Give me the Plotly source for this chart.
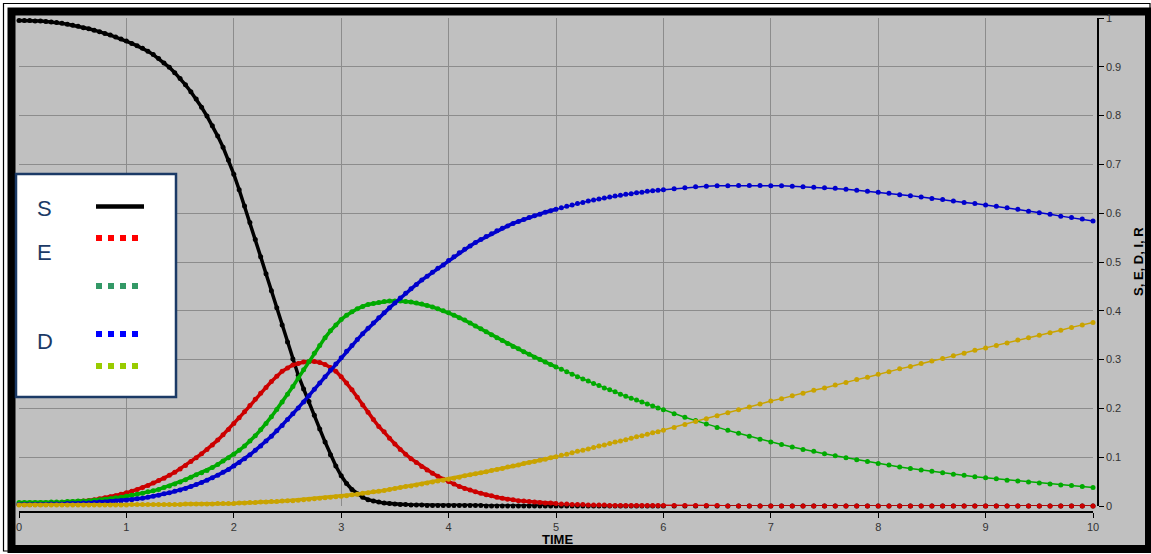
import plotly.graph_objects as go

W, H = 1151, 554

# time samples (adaptive solver steps: finer early, coarser late)
T = [0.0, 0.05, 0.1, 0.15, 0.2, 0.25, 0.3, 0.35, 0.4, 0.45,
     0.5, 0.55, 0.6, 0.65, 0.7, 0.75, 0.8, 0.85, 0.9, 0.95,
     1.0, 1.05, 1.1, 1.15, 1.2, 1.25, 1.3, 1.35, 1.4, 1.45,
     1.5, 1.55, 1.6, 1.65, 1.7, 1.75, 1.8, 1.85, 1.9, 1.95,
     2.0, 2.05, 2.1, 2.15, 2.2, 2.25, 2.3, 2.35, 2.4, 2.45,
     2.5, 2.55, 2.6, 2.65, 2.7, 2.75, 2.8, 2.85, 2.9, 2.95,
     3.0, 3.05, 3.1, 3.15, 3.2, 3.25, 3.3, 3.35, 3.4, 3.45,
     3.5, 3.55, 3.6, 3.65, 3.7, 3.75, 3.8, 3.85, 3.9, 3.95,
     4.0, 4.05, 4.1, 4.15, 4.2, 4.25, 4.3, 4.35, 4.4, 4.45,
     4.5, 4.55, 4.6, 4.65, 4.7, 4.75, 4.8, 4.85, 4.9, 4.95,
     5.0, 5.05, 5.1, 5.15, 5.2, 5.25, 5.3, 5.35, 5.4, 5.45,
     5.5, 5.55, 5.6, 5.65, 5.7, 5.75, 5.8, 5.85, 5.9, 5.95,
     6.0,
     6.1, 6.2, 6.3, 6.4, 6.5, 6.6, 6.7, 6.8, 6.9, 7.0,
     7.1, 7.2, 7.3, 7.4, 7.5, 7.6, 7.7, 7.8, 7.9, 8.0,
     8.1, 8.2, 8.3, 8.4, 8.5, 8.6, 8.7, 8.8, 8.9, 9.0,
     9.1, 9.2, 9.3, 9.4, 9.5, 9.6, 9.7, 9.8, 9.9, 10.0]

S = [0.995, 0.995, 0.995, 0.994, 0.994, 0.993, 0.992, 0.991, 0.989, 0.987,
     0.985, 0.983, 0.980, 0.978, 0.975, 0.972, 0.968, 0.965, 0.961, 0.957,
     0.953, 0.948, 0.943, 0.938, 0.932, 0.925, 0.917, 0.908, 0.899, 0.888,
     0.876, 0.863, 0.849, 0.834, 0.817, 0.799, 0.779, 0.758, 0.735, 0.709,
     0.680, 0.648, 0.615, 0.581, 0.546, 0.511, 0.476, 0.441, 0.406, 0.371,
     0.336, 0.301, 0.268, 0.240, 0.214, 0.186, 0.158, 0.131, 0.105, 0.082,
     0.062, 0.046, 0.034, 0.025, 0.018, 0.013, 0.010, 0.008, 0.006, 0.005,
     0.004, 0.003, 0.003, 0.002, 0.002, 0.002, 0.001, 0.001, 0.001, 0.001,
     0.001, 0.001, 0.001, 0.001, 0.001, 0.001, 0.001, 0.0, 0.0, 0.0,
     0.0, 0.0, 0.0, 0.0, 0.0, 0.0, 0.0, 0.0, 0.0, 0.0,
     0.0, 0.0, 0.0, 0.0, 0.0, 0.0, 0.0, 0.0, 0.0, 0.0,
     0.0, 0.0, 0.0, 0.0, 0.0, 0.0, 0.0, 0.0, 0.0, 0.0,
     0.0,
     0.0, 0.0, 0.0, 0.0, 0.0, 0.0, 0.0, 0.0, 0.0, 0.0,
     0.0, 0.0, 0.0, 0.0, 0.0, 0.0, 0.0, 0.0, 0.0, 0.0,
     0.0, 0.0, 0.0, 0.0, 0.0, 0.0, 0.0, 0.0, 0.0, 0.0,
     0.0, 0.0, 0.0, 0.0, 0.0, 0.0, 0.0, 0.0, 0.0, 0.0]

E = [0.003, 0.003, 0.003, 0.004, 0.004, 0.005, 0.005, 0.006, 0.006, 0.007,
     0.008, 0.009, 0.010, 0.011, 0.013, 0.015, 0.017, 0.019, 0.021, 0.024,
     0.027, 0.030, 0.034, 0.038, 0.042, 0.047, 0.052, 0.057, 0.063, 0.069,
     0.076, 0.083, 0.091, 0.099, 0.107, 0.116, 0.125, 0.135, 0.146, 0.157,
     0.169, 0.181, 0.193, 0.206, 0.219, 0.231, 0.243, 0.255, 0.266, 0.276,
     0.283, 0.289, 0.292, 0.295, 0.296, 0.296, 0.294, 0.290, 0.284, 0.276,
     0.265, 0.252, 0.238, 0.223, 0.207, 0.192, 0.177, 0.163, 0.152, 0.139,
     0.127, 0.116, 0.106, 0.097, 0.089, 0.081, 0.074, 0.067, 0.061, 0.055,
     0.050, 0.045, 0.040, 0.036, 0.033, 0.029, 0.026, 0.023, 0.021, 0.018,
     0.016, 0.014, 0.013, 0.011, 0.010, 0.009, 0.008, 0.007, 0.006, 0.006,
     0.005, 0.004, 0.004, 0.003, 0.003, 0.003, 0.002, 0.002, 0.002, 0.002,
     0.001, 0.001, 0.001, 0.001, 0.001, 0.001, 0.001, 0.001, 0.001, 0.001,
     0.001,
     0.001, 0.001, 0.001, 0.001, 0.001, 0.0, 0.0, 0.0, 0.0, 0.0,
     0.0, 0.0, 0.0, 0.0, 0.0, 0.0, 0.0, 0.0, 0.0, 0.0,
     0.0, 0.0, 0.0, 0.0, 0.0, 0.0, 0.0, 0.0, 0.0, 0.0,
     0.0, 0.0, 0.0, 0.0, 0.0, 0.0, 0.0, 0.0, 0.0, 0.0]

I = [0.007, 0.007, 0.007, 0.007, 0.007, 0.007, 0.008, 0.008, 0.008, 0.009,
     0.009, 0.010, 0.010, 0.011, 0.012, 0.013, 0.014, 0.015, 0.017, 0.018,
     0.020, 0.022, 0.024, 0.026, 0.029, 0.031, 0.034, 0.038, 0.041, 0.045,
     0.049, 0.054, 0.059, 0.064, 0.068, 0.073, 0.079, 0.085, 0.092, 0.099,
     0.106, 0.114, 0.123, 0.133, 0.144, 0.156, 0.169, 0.183, 0.198, 0.213,
     0.229, 0.245, 0.262, 0.279, 0.296, 0.313, 0.329, 0.345, 0.359, 0.371,
     0.382, 0.391, 0.398, 0.404, 0.409, 0.413, 0.415, 0.417, 0.419, 0.420,
     0.420, 0.420, 0.419, 0.418, 0.416, 0.414, 0.411, 0.408, 0.404, 0.400,
     0.396, 0.391, 0.386, 0.381, 0.375, 0.369, 0.363, 0.357, 0.351, 0.345,
     0.339, 0.333, 0.327, 0.322, 0.316, 0.311, 0.305, 0.300, 0.295, 0.290,
     0.285, 0.280, 0.275, 0.270, 0.265, 0.260, 0.256, 0.251, 0.247, 0.242,
     0.238, 0.234, 0.229, 0.225, 0.221, 0.217, 0.213, 0.209, 0.205, 0.201,
     0.197,
     0.189, 0.182, 0.175, 0.168, 0.161, 0.155, 0.149, 0.143, 0.137, 0.131,
     0.126, 0.121, 0.116, 0.112, 0.107, 0.103, 0.099, 0.095, 0.091, 0.087,
     0.084, 0.080, 0.077, 0.074, 0.071, 0.068, 0.065, 0.063, 0.060, 0.058,
     0.056, 0.053, 0.051, 0.049, 0.047, 0.045, 0.043, 0.042, 0.040, 0.038]

D = [0.003, 0.003, 0.003, 0.003, 0.003, 0.003, 0.004, 0.004, 0.004, 0.005,
     0.005, 0.005, 0.006, 0.006, 0.007, 0.008, 0.008, 0.009, 0.010, 0.011,
     0.012, 0.013, 0.015, 0.016, 0.018, 0.020, 0.022, 0.025, 0.027, 0.030,
     0.033, 0.036, 0.040, 0.044, 0.048, 0.053, 0.058, 0.063, 0.069, 0.075,
     0.082, 0.089, 0.097, 0.105, 0.114, 0.123, 0.133, 0.143, 0.154, 0.165,
     0.177, 0.189, 0.201, 0.213, 0.226, 0.239, 0.252, 0.265, 0.278, 0.291,
     0.304, 0.317, 0.329, 0.341, 0.353, 0.364, 0.375, 0.386, 0.396, 0.406,
     0.416, 0.426, 0.436, 0.445, 0.454, 0.463, 0.471, 0.479, 0.487, 0.494,
     0.503, 0.511, 0.519, 0.526, 0.533, 0.540, 0.546, 0.552, 0.558, 0.564,
     0.569, 0.574, 0.579, 0.583, 0.587, 0.591, 0.595, 0.598, 0.602, 0.605,
     0.608, 0.611, 0.614, 0.617, 0.620, 0.622, 0.625, 0.627, 0.629, 0.631,
     0.633, 0.635, 0.637, 0.639, 0.640, 0.642, 0.643, 0.645, 0.646, 0.647,
     0.648,
     0.650, 0.652, 0.654, 0.655, 0.656, 0.656, 0.657, 0.657, 0.657, 0.656,
     0.656, 0.655, 0.654, 0.653, 0.652, 0.651, 0.649, 0.647, 0.645, 0.643,
     0.641, 0.638, 0.636, 0.633, 0.630, 0.628, 0.625, 0.622, 0.620, 0.617,
     0.614, 0.611, 0.608, 0.604, 0.601, 0.598, 0.594, 0.591, 0.588, 0.584]

R = [0.002, 0.002, 0.002, 0.002, 0.002, 0.002, 0.002, 0.002, 0.002, 0.002,
     0.002, 0.002, 0.002, 0.002, 0.002, 0.002, 0.002, 0.002, 0.002, 0.002,
     0.002, 0.003, 0.003, 0.003, 0.003, 0.003, 0.003, 0.003, 0.003, 0.003,
     0.003, 0.004, 0.004, 0.004, 0.004, 0.004, 0.004, 0.005, 0.005, 0.005,
     0.005, 0.006, 0.006, 0.007, 0.007, 0.008, 0.008, 0.009, 0.009, 0.010,
     0.011, 0.011, 0.012, 0.013, 0.014, 0.015, 0.016, 0.017, 0.018, 0.019,
     0.020, 0.021, 0.023, 0.024, 0.026, 0.027, 0.029, 0.030, 0.032, 0.034,
     0.036, 0.038, 0.040, 0.041, 0.043, 0.045, 0.047, 0.049, 0.051, 0.053,
     0.055, 0.057, 0.059, 0.062, 0.064, 0.066, 0.068, 0.070, 0.073, 0.075,
     0.077, 0.080, 0.082, 0.084, 0.087, 0.089, 0.091, 0.094, 0.096, 0.099,
     0.101, 0.104, 0.106, 0.109, 0.112, 0.114, 0.117, 0.120, 0.123, 0.125,
     0.128, 0.131, 0.133, 0.136, 0.139, 0.142, 0.144, 0.147, 0.150, 0.152,
     0.155,
     0.161, 0.167, 0.173, 0.179, 0.185, 0.191, 0.197, 0.203, 0.209, 0.215,
     0.220, 0.226, 0.231, 0.237, 0.242, 0.248, 0.253, 0.259, 0.264, 0.270,
     0.275, 0.281, 0.286, 0.292, 0.297, 0.302, 0.308, 0.313, 0.319, 0.324,
     0.329, 0.334, 0.340, 0.345, 0.350, 0.355, 0.360, 0.366, 0.371, 0.376]

SERIES_NAMES = ["S", "E", "I", "D", "R"]
SERIES_COLORS = ["#000000", "#cc0000", "#00aa00", "#0000cc", "#c9a300"]
LEGEND_LABELS = ["S", "E", "", "D", ""]
LEGEND_COLORS = ["#000000", "#ff0000", "#339966", "#0000ff", "#99cc00"]
X_TICKS = list(range(11))
X_TITLE = "TIME"
Y_TITLE = "S, E, D, I, R"

FONT = "Liberation Sans, Arial, sans-serif"
N_DENSE = 101  # samples up to t = 5, where the solver steps are dense


def px(x):
    return x / W


def py(y):
    return 1 - y / H


fig = go.Figure()
for name, vals, color in zip(SERIES_NAMES, [S, E, I, D, R], SERIES_COLORS):
    # dense solver region: overlapping dots read as a thick line
    fig.add_trace(go.Scatter(
        x=T[:N_DENSE], y=vals[:N_DENSE], mode="lines",
        line=dict(color=color, width=3.5),
        cliponaxis=False, showlegend=False, hoverinfo="skip"))
    fig.add_trace(go.Scatter(
        x=T, y=vals, mode="lines+markers", name=name,
        line=dict(color=color, width=1.5),
        marker=dict(color=color, size=5),
        cliponaxis=False, showlegend=False, hoverinfo="skip"))

shapes = []
# outer frame
shapes.append(dict(type="rect", xref="paper", yref="paper", layer="below",
                   x0=px(3.5), x1=px(1150), y0=py(551), y1=py(3.5),
                   line=dict(color="black", width=1.2), fillcolor="white"))
shapes.append(dict(type="rect", xref="paper", yref="paper", layer="below",
                   x0=px(7.5), x1=px(1151), y0=py(553), y1=py(7.5),
                   line=dict(width=0), fillcolor="black"))
shapes.append(dict(type="rect", xref="paper", yref="paper", layer="below",
                   x0=px(15.5), x1=px(1145), y0=py(545), y1=py(15.5),
                   line=dict(width=0), fillcolor="#c0c0c0"))
# legend box
shapes.append(dict(type="rect", xref="paper", yref="paper", layer="above",
                   x0=px(16), x1=px(176), y0=py(397), y1=py(174),
                   line=dict(color="#1b3a66", width=2.5), fillcolor="white"))
leg_y = [206.5, 238, 286, 334, 366]
for i, (lab, col) in enumerate(zip(LEGEND_LABELS, LEGEND_COLORS)):
    if i == 0:
        shapes.append(dict(type="line", xref="paper", yref="paper", layer="above",
                           x0=px(96), x1=px(144), y0=py(leg_y[i]), y1=py(leg_y[i]),
                           line=dict(color=col, width=4.5)))
    else:
        shapes.append(dict(type="line", xref="paper", yref="paper", layer="above",
                           x0=px(96), x1=px(138), y0=py(leg_y[i]), y1=py(leg_y[i]),
                           line=dict(color=col, width=6, dash="dot")))

annotations = []
label_pos = {"S": 208, "E": 252.5, "D": 341}
for lab in LEGEND_LABELS:
    if lab:
        annotations.append(dict(text=lab, xref="paper", yref="paper", x=px(44.5), y=py(label_pos[lab]),
                                xanchor="center", yanchor="middle", showarrow=False,
                                font=dict(family=FONT, size=22, color="#1b3a66")))
annotations.append(dict(text="<b>%s</b>" % X_TITLE, xref="paper", yref="paper", x=px(557), y=py(539),
                        xanchor="center", yanchor="middle", showarrow=False,
                        font=dict(family=FONT, size=13, color="black")))
annotations.append(dict(text="<b>%s</b>" % Y_TITLE, xref="paper", yref="paper", x=px(1138), y=py(262),
                        xanchor="center", yanchor="middle", showarrow=False, textangle=-90,
                        font=dict(family=FONT, size=13, color="black")))

fig.update_layout(
    width=W, height=H, autosize=False,
    margin=dict(l=0, r=0, t=0, b=0, pad=0),
    paper_bgcolor="white", plot_bgcolor="#c0c0c0",
    showlegend=False,
    shapes=shapes, annotations=annotations,
    xaxis=dict(domain=[px(19), px(1093)], range=[0, 10], anchor="free", position=py(512),
               showgrid=True, gridcolor="#8c8c8c", gridwidth=1, zeroline=False,
               showline=True, linecolor="black", linewidth=1.5,
               ticks="outside", ticklen=5, tickwidth=1, tickcolor="black",
               tickvals=X_TICKS, tickfont=dict(family=FONT, size=11, color="#333333"),
               automargin=False, fixedrange=True),
    yaxis=dict(domain=[py(506), py(18)], range=[0, 1], anchor="free", side="right", position=px(1098),
               showgrid=True, gridcolor="#8c8c8c", gridwidth=1, zeroline=False,
               showline=True, linecolor="black", linewidth=1.5,
               ticks="outside", ticklen=5, tickwidth=1, tickcolor="black",
               dtick=0.1, tick0=0, tickfont=dict(family=FONT, size=11, color="#333333"),
               automargin=False, fixedrange=True),
)

fig.write_html("out.html", config={"responsive": False, "displayModeBar": False},
               post_script="document.body.style.margin='0';document.body.style.overflow='hidden';")
